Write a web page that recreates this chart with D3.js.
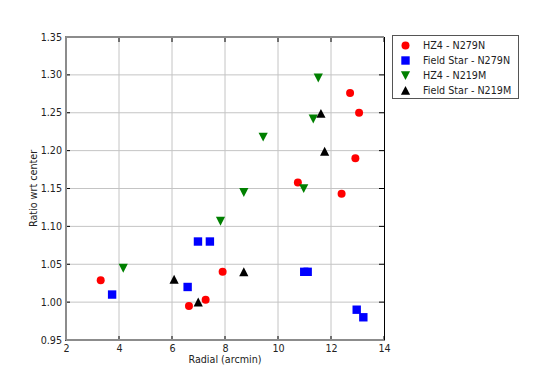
<!DOCTYPE html>
<html><head><meta charset="utf-8">
<script src="https://cdn.jsdelivr.net/npm/d3@7"></script>
<style>body{margin:0;background:#fff;} svg{display:block;} text{font-family:"DejaVu Sans",sans-serif;}</style>
</head><body><svg id="c" width="534" height="378"></svg>
<script>
const xTicks = [2, 4, 6, 8, 10, 12, 14];
const yTicks = [0.95, 1.00, 1.05, 1.10, 1.15, 1.20, 1.25, 1.30, 1.35];

const hz4N279N_x = [3.31, 6.64, 7.27, 7.91, 10.75, 12.40, 12.72, 13.06, 12.92];
const hz4N279N_y = [1.029, 0.995, 1.003, 1.040, 1.158, 1.143, 1.276, 1.250, 1.190];

const fsN279N_x = [3.74, 6.59, 6.98, 7.43, 10.99, 11.12, 12.97, 13.22];
const fsN279N_y = [1.010, 1.020, 1.080, 1.080, 1.040, 1.040, 0.990, 0.980];

const hz4N219M_x = [4.16, 7.83, 8.71, 9.44, 10.97, 11.33, 11.52];
const hz4N219M_y = [1.045, 1.107, 1.145, 1.218, 1.150, 1.242, 1.296];

const fsN219M_x = [6.08, 6.99, 8.71, 11.62, 11.76];
const fsN219M_y = [1.030, 1.000, 1.040, 1.249, 1.199];

const seriesNames = ["HZ4 - N279N", "Field Star - N279N", "HZ4 - N219M", "Field Star - N219M"];
const seriesColors = ["#ff0000", "#0000ff", "#008000", "#000000"];
const seriesSymbols = ["circle", "square", "triDown", "triUp"];

const series = [
  {xs: hz4N279N_x, ys: hz4N279N_y},
  {xs: fsN279N_x, ys: fsN279N_y},
  {xs: hz4N219M_x, ys: hz4N219M_y},
  {xs: fsN219M_x, ys: fsN219M_y}
].map((s, i) => ({name: seriesNames[i], color: seriesColors[i], sym: seriesSymbols[i],
  pts: s.xs.map((x, j) => ({x, y: s.ys[j]}))}));

const L = 66, R = 384, T = 37, B = 340;
const x = d3.scaleLinear().domain([2, 14]).range([L, R]);
const y = d3.scaleLinear().domain([0.95, 1.35]).range([B, T]);
const svg = d3.select("#c");
const fs = "9.6px";

function symPath(sym) {
  if (sym === "circle") return d3.symbol(d3.symbolCircle, 50)();
  if (sym === "square") return "M-4.2,-4.2H4.2V4.2H-4.2Z";
  if (sym === "triDown") return "M-4.6,-4.3L4.6,-4.3L0,4.6Z";
  return "M-4.6,4.3L4.6,4.3L0,-4.6Z";
}

// grid
const g = svg.append("g");
g.selectAll(".gx").data(xTicks.slice(1, -1)).join("line")
  .attr("x1", d => x(d)).attr("x2", d => x(d)).attr("y1", T).attr("y2", B)
  .attr("stroke", "#c4c4c4").attr("stroke-width", 1);
g.selectAll(".gy").data(yTicks.slice(1, -1)).join("line")
  .attr("y1", d => y(d)).attr("y2", d => y(d)).attr("x1", L).attr("x2", R)
  .attr("stroke", "#c4c4c4").attr("stroke-width", 1);

// axes via d3
const xAxis = svg.append("g").attr("transform", `translate(0,${B})`)
  .call(d3.axisBottom(x).tickValues(xTicks).tickFormat(d3.format("d")).tickSize(0).tickPadding(5));
const yAxis = svg.append("g").attr("transform", `translate(${L},0)`)
  .call(d3.axisLeft(y).tickValues(yTicks).tickFormat(d3.format(".2f")).tickSize(0).tickPadding(4));
[xAxis, yAxis].forEach(a => {
  a.select(".domain").remove();
  a.selectAll("text").attr("font-size", fs).attr("fill", "#222").style("font-family", "DejaVu Sans");
});
xAxis.selectAll("text").attr("dy", "0.75em");

// ticks (inward)
const tk = svg.append("g").attr("stroke", "#000").attr("stroke-width", 1);
xTicks.forEach(d => {
  tk.append("line").attr("x1", x(d)).attr("x2", x(d)).attr("y1", B - 4).attr("y2", B + 1);
  tk.append("line").attr("x1", x(d)).attr("x2", x(d)).attr("y1", T).attr("y2", T + 5);
});
yTicks.forEach(d => {
  tk.append("line").attr("y1", y(d)).attr("y2", y(d)).attr("x1", L - 1).attr("x2", L + 4);
  tk.append("line").attr("y1", y(d)).attr("y2", y(d)).attr("x1", R - 5).attr("x2", R);
});

// spines
svg.append("line").attr("x1", L).attr("x2", R).attr("y1", T).attr("y2", T).attr("stroke", "#8c8c8c").attr("stroke-width", 2);
svg.append("line").attr("x1", L).attr("x2", R).attr("y1", B).attr("y2", B).attr("stroke", "#8c8c8c").attr("stroke-width", 2);
svg.append("line").attr("x1", L).attr("x2", L).attr("y1", T).attr("y2", B).attr("stroke", "#8c8c8c").attr("stroke-width", 2);
svg.append("line").attr("x1", R + 0.5).attr("x2", R + 0.5).attr("y1", T).attr("y2", B).attr("stroke", "#000").attr("stroke-width", 1);

// points
series.forEach(s => {
  svg.append("g").selectAll("path").data(s.pts).join("path")
    .attr("d", symPath(s.sym))
    .attr("transform", d => `translate(${x(d.x)},${y(d.y)})`)
    .attr("fill", s.color);
});

// axis labels
svg.append("text").attr("x", (L + R) / 2).attr("y", 363).attr("text-anchor", "middle")
  .attr("font-size", fs).attr("fill", "#222").text("Radial (arcmin)");
svg.append("text").attr("transform", `translate(37,${(T + B) / 2}) rotate(-90)`).attr("text-anchor", "middle")
  .attr("font-size", fs).attr("fill", "#222").text("Ratio wrt center");

// legend
const lg = svg.append("g");
lg.append("rect").attr("x", 392.5).attr("y", 35.5).attr("width", 126).attr("height", 63)
  .attr("fill", "#fff").attr("stroke", "#555").attr("stroke-width", 1);
series.forEach((s, i) => {
  const ry = 45.5 + i * 15;
  lg.append("path").attr("d", symPath(s.sym)).attr("transform", `translate(405.5,${ry})`).attr("fill", s.color);
  lg.append("text").attr("x", 423).attr("y", ry + 3.5).attr("font-size", fs).attr("fill", "#222").text(s.name);
});
</script></body></html>
